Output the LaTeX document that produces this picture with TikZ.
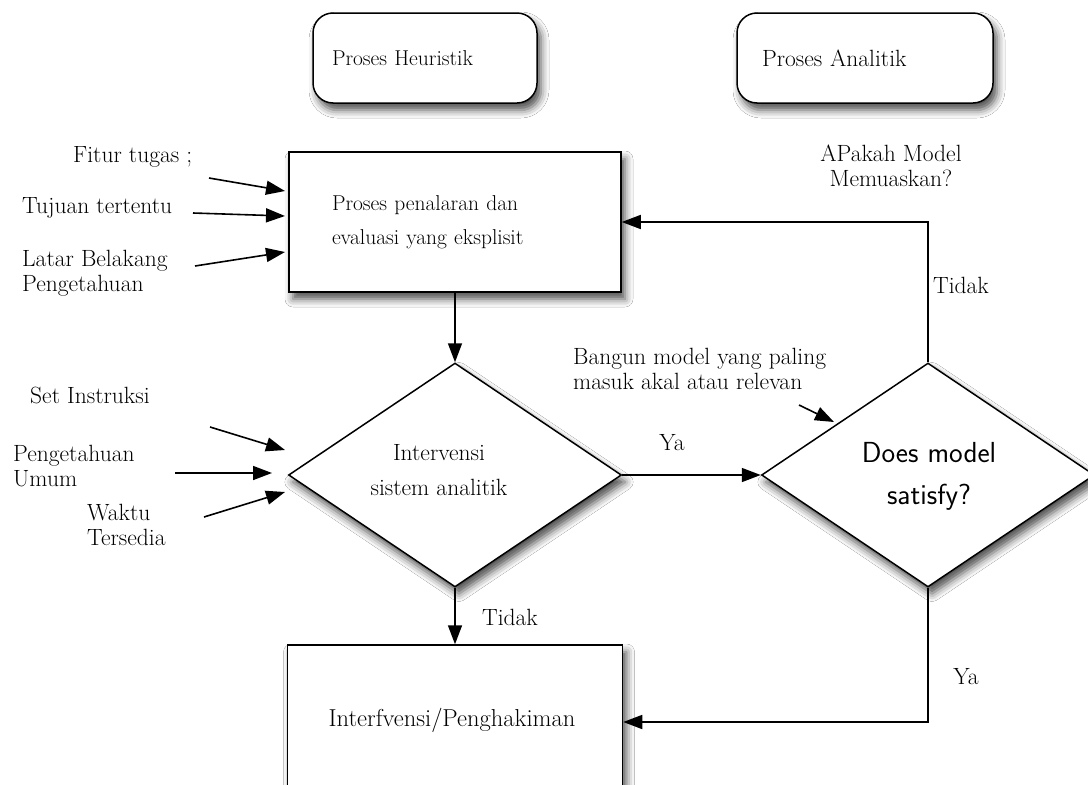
\documentclass[tikz,border=0pt]{standalone}
\usepackage{fontspec}
\usetikzlibrary{arrows.meta,shapes.geometric,shadows.blur}
\begin{document}
\begin{tikzpicture}[x=1pt,y=-1pt,
  every node/.style={font=\fontsize{23.5}{25}\selectfont, inner sep=0pt},
  conn/.style={line width=1.6pt, -{Triangle[length=19pt,width=14pt]}},
  shad/.style={blur shadow={shadow xshift=4pt,shadow yshift=-7pt,shadow blur radius=8pt,shadow opacity=70}},
  rbox/.style={draw, line width=1.5pt, fill=white, shad, rounded corners=20pt, minimum width=224pt, minimum height=90pt, align=left},
  pbox/.style={draw, line width=1.5pt, fill=white, shad, minimum width=332pt, minimum height=140pt},
  dbox/.style={draw, line width=1.5pt, fill=white, shad, diamond, minimum width=333pt, minimum height=224pt},
  lbl/.style={align=left},
]
\clip (0,0) rectangle (1088,785);
\fill[white] (0,0) rectangle (1088,785);

% top rounded boxes
\node[rbox, text width=186pt, font=\fontsize{21.5}{25}\selectfont] (heur) at (425,58) {Proses Heuristik};
\node[rbox, minimum width=256pt, text width=206pt] (anal) at (865,58) {Proses Analitik};

% main boxes
\node[pbox, align=left, text width=246pt, font=\fontsize{21.5}{34}\selectfont] (proc) at (455,222)
  {Proses penalaran dan\\evaluasi yang eksplisit};
\node[dbox] (ldiam) at (455,475) {};
\node[align=center, font=\fontsize{23.5}{35}\selectfont] (ltext) at (439,470) {Intervensi\\sistem analitik};
\node[dbox] (rdiam) at (928,475) {};
\node[align=center, font=\sffamily\fontsize{29}{42}\selectfont] (rtext) at (929,476) {Does model\\satisfy?};
\node[pbox, minimum width=335pt, minimum height=160pt] (judge) at (455,725) {};
\node[font=\fontsize{24.5}{25}\selectfont] (jtext) at (452,720) {Interfvensi/Penghakiman};

% labels
\node[align=center] (apakah) at (891,166) {APakah Model\\Memuaskan?};
\node[anchor=west] (fitur) at (73,157) {Fitur tugas ;};
\node[anchor=west] (tujuan) at (22,208) {Tujuan tertentu};
\node[anchor=west, lbl] (latar) at (22,273) {Latar Belakang\\Pengetahuan};
\node[anchor=west] (setins) at (30,395) {Set Instruksi};
\node[anchor=west, lbl] (umum) at (13,466) {Pengetahuan\\Umum};
\node[anchor=west, lbl] (waktu) at (87,525) {Waktu\\Tersedia};
\node[anchor=west, lbl] (bangun) at (573,369) {Bangun model yang paling\\masuk akal atau relevan};

% input arrow coordinates
\coordinate (f1) at (209,178); \coordinate (f2) at (285,191);
\coordinate (t1) at (193,213); \coordinate (t2) at (285,216);
\coordinate (l1) at (195,266); \coordinate (l2) at (285,252);
\coordinate (s1) at (210,427); \coordinate (s2) at (285,450);
\coordinate (u1) at (175,473); \coordinate (u2) at (272,473);
\coordinate (w1) at (204,517); \coordinate (w2) at (285,492);
\coordinate (b1) at (799,405); \coordinate (b2) at (834,422);

\draw[conn] (f1) -- (f2);
\draw[conn] (t1) -- (t2);
\draw[conn] (l1) -- (l2);
\draw[conn] (s1) -- (s2);
\draw[conn] (u1) -- (u2);
\draw[conn] (w1) -- (w2);
\draw[conn] (b1) -- (b2);

% flow arrows
\draw[conn] (proc.south) -- (ldiam.north);
\draw[conn] (ldiam.east) -- (rdiam.west);
\draw[conn] (rdiam.north) |- (proc.east);
\draw[conn] (rdiam.south) |- ([yshift=3pt]judge.east);
\draw[conn] (ldiam.south) -- (judge.north);

% connector labels
\node (ya1) at (672,443) {Ya};
\node (tidak1) at (961,285) {Tidak};
\node[fill=white, inner sep=4pt] (tidak2) at (510,617) {Tidak};
\node (ya2) at (966,677) {Ya};
\end{tikzpicture}
\end{document}
